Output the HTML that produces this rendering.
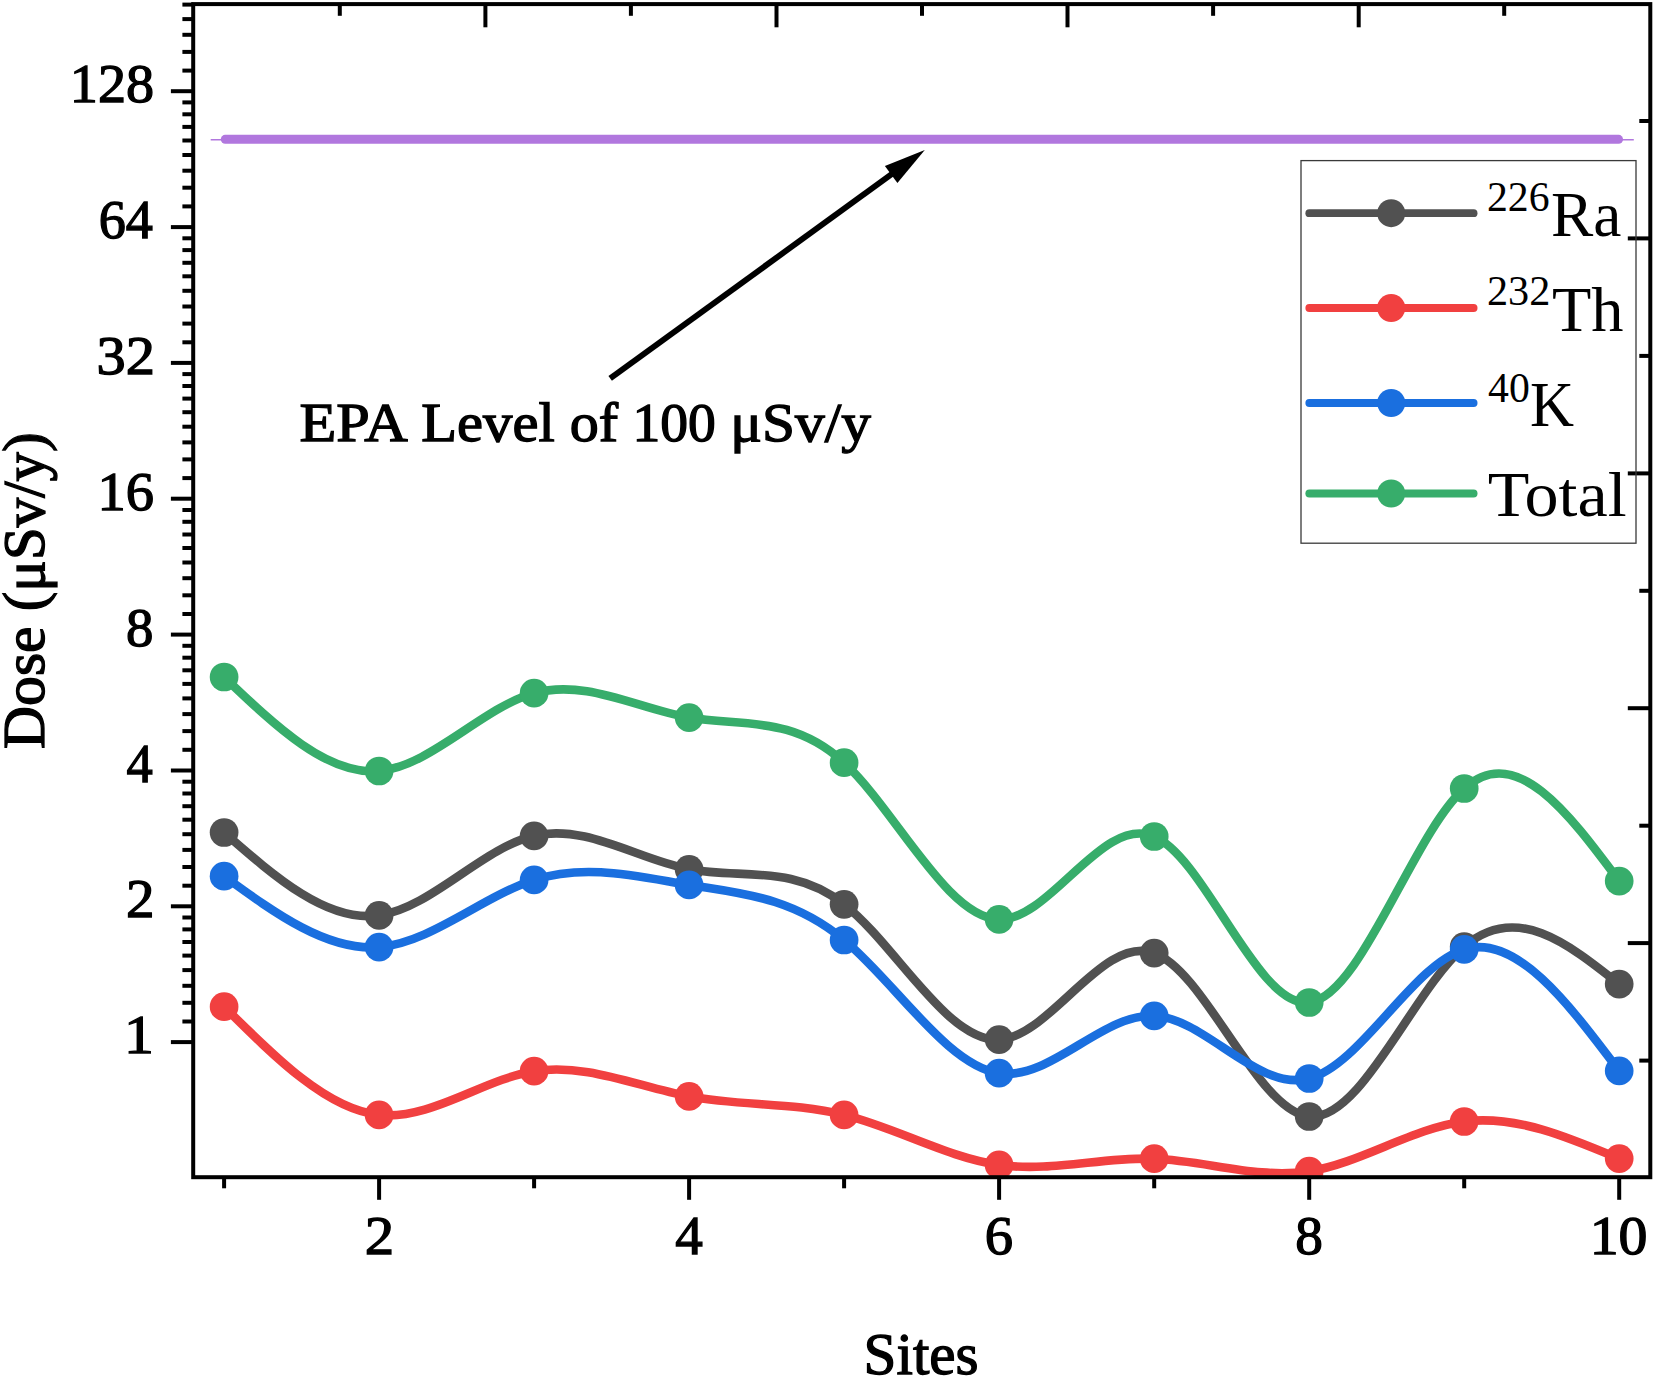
<!DOCTYPE html>
<html lang="en"><head><meta charset="utf-8"><title>Dose per site</title>
<style>
html,body{margin:0;padding:0;background:#fff;}
body{width:1654px;height:1377px;overflow:hidden;}
svg{display:block;}
text{font-family:"Liberation Serif",serif;fill:#000;}
.pal{stroke:#000;stroke-width:1.3px;paint-order:stroke;}
</style></head><body>
<svg width="1654" height="1377" viewBox="0 0 1654 1377">
<rect width="1654" height="1377" fill="#fff"/>
<defs><clipPath id="plot"><rect x="193.2" y="4.1" width="1457.1" height="1173.1000000000001"/></clipPath></defs>

<g clip-path="url(#plot)">
<path d="M224.1,832.5C275.8,877.7 327.4,922.8 379.1,915.4C430.8,908.0 482.4,848.0 534.1,835.8C585.8,823.6 637.5,859.3 689.1,869.3C740.8,879.3 792.5,863.6 844.1,904.3C895.8,945.0 947.5,1042.3 999.1,1039.6C1050.8,1036.9 1102.5,934.4 1154.2,953.1C1205.8,971.8 1257.5,1111.6 1309.2,1116.5C1360.8,1121.4 1412.5,991.3 1464.2,946.7C1515.8,902.1 1567.5,943.1 1619.2,984.1" fill="none" stroke="#515151" stroke-width="8.6" stroke-linecap="round" stroke-linejoin="round"/>
<circle cx="224.1" cy="832.5" r="14.35" fill="#515151"/>
<circle cx="379.1" cy="915.4" r="14.35" fill="#515151"/>
<circle cx="534.1" cy="835.8" r="14.35" fill="#515151"/>
<circle cx="689.1" cy="869.3" r="14.35" fill="#515151"/>
<circle cx="844.1" cy="904.3" r="14.35" fill="#515151"/>
<circle cx="999.1" cy="1039.6" r="14.35" fill="#515151"/>
<circle cx="1154.2" cy="953.1" r="14.35" fill="#515151"/>
<circle cx="1309.2" cy="1116.5" r="14.35" fill="#515151"/>
<circle cx="1464.2" cy="946.7" r="14.35" fill="#515151"/>
<circle cx="1619.2" cy="984.1" r="14.35" fill="#515151"/>
<path d="M224.1,1006.7C275.8,1058.1 327.4,1109.5 379.1,1114.9C430.8,1120.3 482.4,1079.6 534.1,1071.2C585.8,1062.8 637.5,1086.6 689.1,1096.4C740.8,1106.2 792.5,1102.1 844.1,1114.9C895.8,1127.7 947.5,1157.6 999.1,1164.9C1050.8,1172.2 1102.5,1156.9 1154.2,1158.7C1205.8,1160.5 1257.5,1179.3 1309.2,1171.2C1360.8,1163.1 1412.5,1128.1 1464.2,1121.5C1515.8,1114.9 1567.5,1136.8 1619.2,1158.6" fill="none" stroke="#F14040" stroke-width="8.6" stroke-linecap="round" stroke-linejoin="round"/>
<circle cx="224.1" cy="1006.7" r="14.35" fill="#F14040"/>
<circle cx="379.1" cy="1114.9" r="14.35" fill="#F14040"/>
<circle cx="534.1" cy="1071.2" r="14.35" fill="#F14040"/>
<circle cx="689.1" cy="1096.4" r="14.35" fill="#F14040"/>
<circle cx="844.1" cy="1114.9" r="14.35" fill="#F14040"/>
<circle cx="999.1" cy="1164.9" r="14.35" fill="#F14040"/>
<circle cx="1154.2" cy="1158.7" r="14.35" fill="#F14040"/>
<circle cx="1309.2" cy="1171.2" r="14.35" fill="#F14040"/>
<circle cx="1464.2" cy="1121.5" r="14.35" fill="#F14040"/>
<circle cx="1619.2" cy="1158.6" r="14.35" fill="#F14040"/>
<path d="M224.1,876.2C275.8,913.8 327.4,951.4 379.1,947.1C430.8,942.8 482.4,896.5 534.1,879.9C585.8,863.3 637.5,876.5 689.1,884.9C740.8,893.3 792.5,896.9 844.1,940.0C895.8,983.1 947.5,1065.7 999.1,1073.2C1050.8,1080.7 1102.5,1013.0 1154.2,1015.8C1205.8,1018.6 1257.5,1091.9 1309.2,1078.5C1360.8,1065.1 1412.5,965.0 1464.2,949.3C1515.8,933.6 1567.5,1002.2 1619.2,1070.8" fill="none" stroke="#1A6FDF" stroke-width="8.6" stroke-linecap="round" stroke-linejoin="round"/>
<circle cx="224.1" cy="876.2" r="14.35" fill="#1A6FDF"/>
<circle cx="379.1" cy="947.1" r="14.35" fill="#1A6FDF"/>
<circle cx="534.1" cy="879.9" r="14.35" fill="#1A6FDF"/>
<circle cx="689.1" cy="884.9" r="14.35" fill="#1A6FDF"/>
<circle cx="844.1" cy="940.0" r="14.35" fill="#1A6FDF"/>
<circle cx="999.1" cy="1073.2" r="14.35" fill="#1A6FDF"/>
<circle cx="1154.2" cy="1015.8" r="14.35" fill="#1A6FDF"/>
<circle cx="1309.2" cy="1078.5" r="14.35" fill="#1A6FDF"/>
<circle cx="1464.2" cy="949.3" r="14.35" fill="#1A6FDF"/>
<circle cx="1619.2" cy="1070.8" r="14.35" fill="#1A6FDF"/>
<path d="M224.1,677.0C275.8,726.3 327.4,775.7 379.1,771.0C430.8,766.3 482.4,707.6 534.1,693.2C585.8,678.8 637.5,708.6 689.1,717.6C740.8,726.6 792.5,714.8 844.1,762.7C895.8,810.6 947.5,918.3 999.1,919.3C1050.8,920.3 1102.5,814.4 1154.2,836.5C1205.8,858.6 1257.5,1008.5 1309.2,1002.5C1360.8,996.5 1412.5,834.7 1464.2,788.5C1515.8,742.3 1567.5,811.7 1619.2,881.1" fill="none" stroke="#37AD6B" stroke-width="8.6" stroke-linecap="round" stroke-linejoin="round"/>
<circle cx="224.1" cy="677.0" r="14.35" fill="#37AD6B"/>
<circle cx="379.1" cy="771.0" r="14.35" fill="#37AD6B"/>
<circle cx="534.1" cy="693.2" r="14.35" fill="#37AD6B"/>
<circle cx="689.1" cy="717.6" r="14.35" fill="#37AD6B"/>
<circle cx="844.1" cy="762.7" r="14.35" fill="#37AD6B"/>
<circle cx="999.1" cy="919.3" r="14.35" fill="#37AD6B"/>
<circle cx="1154.2" cy="836.5" r="14.35" fill="#37AD6B"/>
<circle cx="1309.2" cy="1002.5" r="14.35" fill="#37AD6B"/>
<circle cx="1464.2" cy="788.5" r="14.35" fill="#37AD6B"/>
<circle cx="1619.2" cy="881.1" r="14.35" fill="#37AD6B"/>
<line x1="210.7" y1="139.70000000000002" x2="1633.8" y2="139.70000000000002" stroke="#B177DE" stroke-width="1.5"/>
<line x1="225.2" y1="139.3" x2="1618.6" y2="139.3" stroke="#B177DE" stroke-width="8.9" stroke-linecap="round"/>
</g>
<g stroke="#000" stroke-width="4.0" fill="none" stroke-linecap="butt">
<rect x="193.2" y="4.1" width="1457.1" height="1173.1000000000001"/>
<line x1="170.9" y1="1042.1" x2="193.2" y2="1042.1"/>
<line x1="170.9" y1="906.3" x2="193.2" y2="906.3"/>
<line x1="170.9" y1="770.5" x2="193.2" y2="770.5"/>
<line x1="170.9" y1="634.6" x2="193.2" y2="634.6"/>
<line x1="170.9" y1="498.7" x2="193.2" y2="498.7"/>
<line x1="170.9" y1="362.9" x2="193.2" y2="362.9"/>
<line x1="170.9" y1="227.1" x2="193.2" y2="227.1"/>
<line x1="170.9" y1="91.2" x2="193.2" y2="91.2"/>
<line x1="182.4" y1="1021.5" x2="193.2" y2="1021.5"/>
<line x1="182.4" y1="1002.8" x2="193.2" y2="1002.8"/>
<line x1="182.4" y1="985.8" x2="193.2" y2="985.8"/>
<line x1="182.4" y1="970.1" x2="193.2" y2="970.1"/>
<line x1="182.4" y1="955.6" x2="193.2" y2="955.6"/>
<line x1="182.4" y1="942.0" x2="193.2" y2="942.0"/>
<line x1="182.4" y1="929.4" x2="193.2" y2="929.4"/>
<line x1="182.4" y1="917.5" x2="193.2" y2="917.5"/>
<line x1="182.4" y1="885.7" x2="193.2" y2="885.7"/>
<line x1="182.4" y1="867.0" x2="193.2" y2="867.0"/>
<line x1="182.4" y1="849.9" x2="193.2" y2="849.9"/>
<line x1="182.4" y1="834.2" x2="193.2" y2="834.2"/>
<line x1="182.4" y1="819.7" x2="193.2" y2="819.7"/>
<line x1="182.4" y1="806.2" x2="193.2" y2="806.2"/>
<line x1="182.4" y1="793.5" x2="193.2" y2="793.5"/>
<line x1="182.4" y1="781.7" x2="193.2" y2="781.7"/>
<line x1="182.4" y1="749.8" x2="193.2" y2="749.8"/>
<line x1="182.4" y1="731.1" x2="193.2" y2="731.1"/>
<line x1="182.4" y1="714.1" x2="193.2" y2="714.1"/>
<line x1="182.4" y1="698.4" x2="193.2" y2="698.4"/>
<line x1="182.4" y1="683.9" x2="193.2" y2="683.9"/>
<line x1="182.4" y1="670.3" x2="193.2" y2="670.3"/>
<line x1="182.4" y1="657.7" x2="193.2" y2="657.7"/>
<line x1="182.4" y1="645.8" x2="193.2" y2="645.8"/>
<line x1="182.4" y1="614.0" x2="193.2" y2="614.0"/>
<line x1="182.4" y1="595.3" x2="193.2" y2="595.3"/>
<line x1="182.4" y1="578.2" x2="193.2" y2="578.2"/>
<line x1="182.4" y1="562.5" x2="193.2" y2="562.5"/>
<line x1="182.4" y1="548.0" x2="193.2" y2="548.0"/>
<line x1="182.4" y1="534.5" x2="193.2" y2="534.5"/>
<line x1="182.4" y1="521.8" x2="193.2" y2="521.8"/>
<line x1="182.4" y1="510.0" x2="193.2" y2="510.0"/>
<line x1="182.4" y1="478.1" x2="193.2" y2="478.1"/>
<line x1="182.4" y1="459.4" x2="193.2" y2="459.4"/>
<line x1="182.4" y1="442.4" x2="193.2" y2="442.4"/>
<line x1="182.4" y1="426.7" x2="193.2" y2="426.7"/>
<line x1="182.4" y1="412.2" x2="193.2" y2="412.2"/>
<line x1="182.4" y1="398.6" x2="193.2" y2="398.6"/>
<line x1="182.4" y1="386.0" x2="193.2" y2="386.0"/>
<line x1="182.4" y1="374.1" x2="193.2" y2="374.1"/>
<line x1="182.4" y1="342.3" x2="193.2" y2="342.3"/>
<line x1="182.4" y1="323.6" x2="193.2" y2="323.6"/>
<line x1="182.4" y1="306.5" x2="193.2" y2="306.5"/>
<line x1="182.4" y1="290.8" x2="193.2" y2="290.8"/>
<line x1="182.4" y1="276.3" x2="193.2" y2="276.3"/>
<line x1="182.4" y1="262.8" x2="193.2" y2="262.8"/>
<line x1="182.4" y1="250.1" x2="193.2" y2="250.1"/>
<line x1="182.4" y1="238.3" x2="193.2" y2="238.3"/>
<line x1="182.4" y1="206.4" x2="193.2" y2="206.4"/>
<line x1="182.4" y1="187.7" x2="193.2" y2="187.7"/>
<line x1="182.4" y1="170.7" x2="193.2" y2="170.7"/>
<line x1="182.4" y1="155.0" x2="193.2" y2="155.0"/>
<line x1="182.4" y1="140.5" x2="193.2" y2="140.5"/>
<line x1="182.4" y1="126.9" x2="193.2" y2="126.9"/>
<line x1="182.4" y1="114.3" x2="193.2" y2="114.3"/>
<line x1="182.4" y1="102.4" x2="193.2" y2="102.4"/>
<line x1="182.4" y1="70.6" x2="193.2" y2="70.6"/>
<line x1="182.4" y1="51.9" x2="193.2" y2="51.9"/>
<line x1="182.4" y1="34.8" x2="193.2" y2="34.8"/>
<line x1="182.4" y1="19.1" x2="193.2" y2="19.1"/>
<line x1="182.4" y1="4.6" x2="193.2" y2="4.6"/>
<line x1="224.1" y1="1177.2" x2="224.1" y2="1188.3"/>
<line x1="379.1" y1="1177.2" x2="379.1" y2="1199.8"/>
<line x1="534.1" y1="1177.2" x2="534.1" y2="1188.3"/>
<line x1="689.1" y1="1177.2" x2="689.1" y2="1199.8"/>
<line x1="844.1" y1="1177.2" x2="844.1" y2="1188.3"/>
<line x1="999.1" y1="1177.2" x2="999.1" y2="1199.8"/>
<line x1="1154.2" y1="1177.2" x2="1154.2" y2="1188.3"/>
<line x1="1309.2" y1="1177.2" x2="1309.2" y2="1199.8"/>
<line x1="1464.2" y1="1177.2" x2="1464.2" y2="1188.3"/>
<line x1="1619.2" y1="1177.2" x2="1619.2" y2="1199.8"/>
<line x1="339.8" y1="4.1" x2="339.8" y2="15.799999999999999"/>
<line x1="485.4" y1="4.1" x2="485.4" y2="27.299999999999997"/>
<line x1="630.9" y1="4.1" x2="630.9" y2="15.799999999999999"/>
<line x1="776.5" y1="4.1" x2="776.5" y2="27.299999999999997"/>
<line x1="922.0" y1="4.1" x2="922.0" y2="15.799999999999999"/>
<line x1="1067.5" y1="4.1" x2="1067.5" y2="27.299999999999997"/>
<line x1="1213.1" y1="4.1" x2="1213.1" y2="15.799999999999999"/>
<line x1="1358.7" y1="4.1" x2="1358.7" y2="27.299999999999997"/>
<line x1="1504.2" y1="4.1" x2="1504.2" y2="15.799999999999999"/>
<line x1="1650.3" y1="121.0" x2="1639.3" y2="121.0"/>
<line x1="1650.3" y1="238.4" x2="1627.8" y2="238.4"/>
<line x1="1650.3" y1="355.9" x2="1639.3" y2="355.9"/>
<line x1="1650.3" y1="473.4" x2="1627.8" y2="473.4"/>
<line x1="1650.3" y1="590.8" x2="1639.3" y2="590.8"/>
<line x1="1650.3" y1="708.2" x2="1627.8" y2="708.2"/>
<line x1="1650.3" y1="825.7" x2="1639.3" y2="825.7"/>
<line x1="1650.3" y1="943.1" x2="1627.8" y2="943.1"/>
<line x1="1650.3" y1="1060.6" x2="1639.3" y2="1060.6"/>
</g>
<text class="pal" transform="translate(69.83,102.30) scale(1.0167,1)" font-size="55.3">128</text>
<text class="pal" transform="translate(98.72,238.15) scale(0.9800,1)" font-size="55.3">64</text>
<text class="pal" transform="translate(96.59,374.00) scale(1.0569,1)" font-size="55.3">32</text>
<text class="pal" transform="translate(97.41,509.85) scale(1.0216,1)" font-size="55.3">16</text>
<text class="pal" transform="translate(126.01,645.70) scale(0.9923,1)" font-size="55.3">8</text>
<text class="pal" transform="translate(126.60,781.55) scale(0.9500,1)" font-size="55.3">4</text>
<text class="pal" transform="translate(125.97,917.40) scale(1.0320,1)" font-size="55.3">2</text>
<text class="pal" transform="translate(123.98,1053.25) scale(1.0810,1)" font-size="55.3">1</text>
<text class="pal" transform="translate(364.75,1254.10) scale(1.0640,1)" font-size="55.3">2</text>
<text class="pal" transform="translate(675.18,1254.10) scale(0.9964,1)" font-size="55.3">4</text>
<text class="pal" transform="translate(984.83,1254.10) scale(1.0231,1)" font-size="55.3">6</text>
<text class="pal" transform="translate(1295.17,1254.10) scale(1.0000,1)" font-size="55.3">8</text>
<text class="pal" transform="translate(1589.66,1254.10) scale(1.0460,1)" font-size="55.3">10</text>
<text class="pal" transform="translate(863.59,1373.80) scale(1.0018,1)" font-size="59.0">Sites</text>
<text class="pal" transform="translate(44.2,749.00) rotate(-90) scale(1.0025,1)" font-size="59.5">Dose</text>
<text class="pal" transform="translate(44.2,611.28) rotate(-90) scale(0.9904,1)" font-size="59.5">(μSv/y)</text>
<text class="pal" transform="translate(299.41,441.00) scale(1.0889,1)" font-size="55.3">EPA</text>
<text class="pal" transform="translate(421.34,441.00) scale(1.0592,1)" font-size="55.3">Level</text>
<text class="pal" transform="translate(569.65,441.00) scale(1.0500,1)" font-size="55.3">of</text>
<text class="pal" transform="translate(632.38,441.00) scale(1.0051,1)" font-size="55.3">100</text>
<text class="pal" transform="translate(730.28,441.00) scale(1.0729,1)" font-size="55.3">μSv/y</text>
<text transform="translate(1487.01,210.50) scale(0.9934,1)" font-size="42">226</text>
<text transform="translate(1550.91,235.80) scale(0.9900,1)" font-size="64">Ra</text>
<text transform="translate(1486.99,305.10) scale(1.0067,1)" font-size="42">232</text>
<text transform="translate(1551.99,330.50) scale(1.0057,1)" font-size="64">Th</text>
<text transform="translate(1488.00,401.70) scale(0.9951,1)" font-size="42">40</text>
<text transform="translate(1530.05,425.90) scale(0.9533,1)" font-size="64">K</text>
<text transform="translate(1487.64,516.20) scale(1.0643,1)" font-size="64">Total</text>
<line x1="610.2" y1="378.4" x2="892.7" y2="173.4" stroke="#000" stroke-width="5.9"/>
<polygon points="924.8,150.1 897.4,183.1 884.9,166.0" fill="#000"/>
<rect x="1301" y="160.6" width="335.0" height="382.6" fill="none" stroke="#3a3a3a" stroke-width="1.3"/>
<line x1="1309.3" y1="213.2" x2="1473.6" y2="213.2" stroke="#515151" stroke-width="7.8" stroke-linecap="round"/>
<circle cx="1391.2" cy="213.2" r="14" fill="#515151"/>
<line x1="1309.3" y1="308" x2="1473.6" y2="308" stroke="#F14040" stroke-width="7.8" stroke-linecap="round"/>
<circle cx="1391.2" cy="308" r="14" fill="#F14040"/>
<line x1="1309.3" y1="403" x2="1473.6" y2="403" stroke="#1A6FDF" stroke-width="7.8" stroke-linecap="round"/>
<circle cx="1391.2" cy="403" r="14" fill="#1A6FDF"/>
<line x1="1309.3" y1="493.5" x2="1473.6" y2="493.5" stroke="#37AD6B" stroke-width="7.8" stroke-linecap="round"/>
<circle cx="1391.2" cy="493.5" r="14" fill="#37AD6B"/>
</svg></body></html>
